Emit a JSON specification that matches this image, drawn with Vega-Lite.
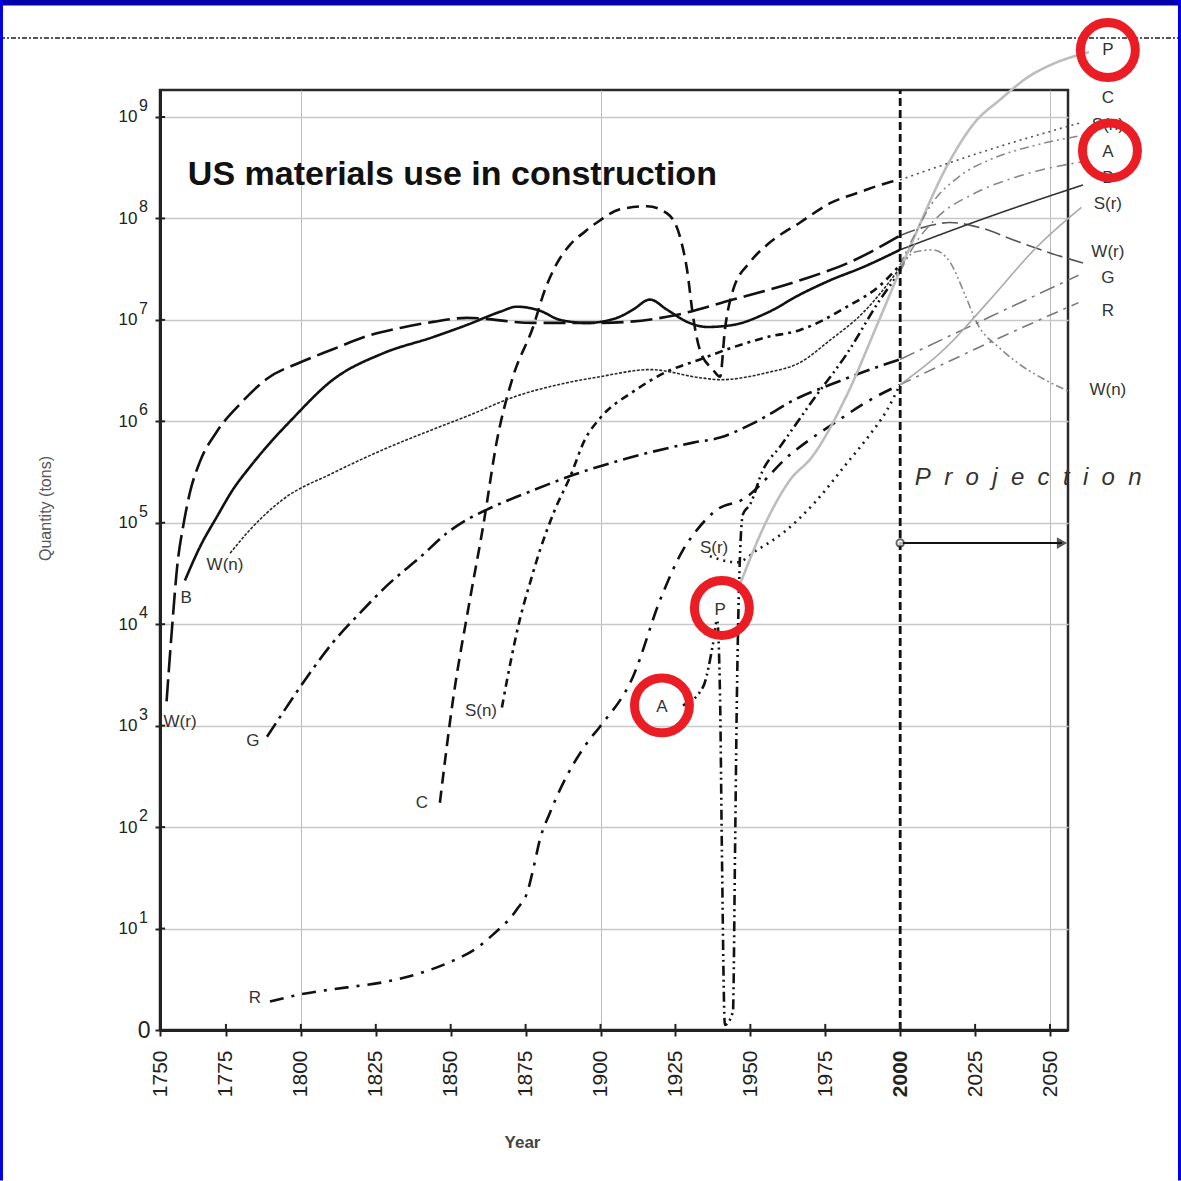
{
"$schema": "https://vega.github.io/schema/vega-lite/v6.json",
"width": 908, "height": 940,
"autosize": {"type": "none"},
"padding": {"left": 160, "top": 90, "right": 113, "bottom": 151},
"background": "white",
"config": {"view": {"stroke": "#2a2a2a", "strokeWidth": 2.5}, "font": "Liberation Sans"},
"datasets": {
"lines": [
{"k":"W(r)","year":1755.2,"L":3.24},{"k":"W(r)","year":1756.9,"L":3.92},{"k":"W(r)","year":1759.0,"L":4.64},{"k":"W(r)","year":1760.7,"L":4.96},{"k":"W(r)","year":1763.0,"L":5.3},{"k":"W(r)","year":1766.3,"L":5.6},{"k":"W(r)","year":1772.0,"L":5.9},{"k":"W(r)","year":1779.7,"L":6.17},{"k":"W(r)","year":1788.7,"L":6.42},{"k":"W(r)","year":1799.7,"L":6.58},{"k":"W(r)","year":1810.7,"L":6.71},{"k":"W(r)","year":1822.1,"L":6.84},{"k":"W(r)","year":1833.1,"L":6.92},{"k":"W(r)","year":1844.1,"L":6.98},{"k":"W(r)","year":1855.4,"L":7.02},{"k":"W(r)","year":1877.5,"L":6.97},{"k":"W(r)","year":1899.8,"L":6.97},{"k":"W(r)","year":1922.2,"L":7.03},{"k":"W(r)","year":1944.2,"L":7.2},{"k":"W(r)","year":1966.6,"L":7.39},{"k":"W(r)","year":1983.3,"L":7.57},{"k":"W(r)","year":1999.9,"L":7.83},
{"k":"B","year":1761.3,"L":4.43},{"k":"B","year":1766.3,"L":4.76},{"k":"B","year":1772.0,"L":5.06},{"k":"B","year":1777.4,"L":5.33},{"k":"B","year":1783.0,"L":5.55},{"k":"B","year":1790.7,"L":5.82},{"k":"B","year":1796.4,"L":6.0},{"k":"B","year":1810.7,"L":6.41},{"k":"B","year":1827.4,"L":6.67},{"k":"B","year":1844.1,"L":6.83},{"k":"B","year":1855.4,"L":6.95},{"k":"B","year":1866.5,"L":7.08},{"k":"B","year":1872.1,"L":7.13},{"k":"B","year":1879.8,"L":7.09},{"k":"B","year":1886.5,"L":7.0},{"k":"B","year":1895.5,"L":6.97},{"k":"B","year":1905.5,"L":7.02},{"k":"B","year":1910.8,"L":7.1},{"k":"B","year":1916.5,"L":7.2},{"k":"B","year":1922.2,"L":7.1},{"k":"B","year":1928.9,"L":6.98},{"k":"B","year":1935.6,"L":6.93},{"k":"B","year":1944.2,"L":6.95},{"k":"B","year":1955.6,"L":7.07},{"k":"B","year":1966.6,"L":7.25},{"k":"B","year":1976.6,"L":7.39},{"k":"B","year":1987.6,"L":7.52},{"k":"B","year":1999.9,"L":7.69},
{"k":"W(n)","year":1776.4,"L":4.7},{"k":"W(n)","year":1783.0,"L":4.93},{"k":"W(n)","year":1794.0,"L":5.23},{"k":"W(n)","year":1810.7,"L":5.49},{"k":"W(n)","year":1827.4,"L":5.72},{"k":"W(n)","year":1844.1,"L":5.92},{"k":"W(n)","year":1855.4,"L":6.05},{"k":"W(n)","year":1872.1,"L":6.25},{"k":"W(n)","year":1888.8,"L":6.38},{"k":"W(n)","year":1899.8,"L":6.44},{"k":"W(n)","year":1916.5,"L":6.51},{"k":"W(n)","year":1933.2,"L":6.43},{"k":"W(n)","year":1939.9,"L":6.41},{"k":"W(n)","year":1955.6,"L":6.48},{"k":"W(n)","year":1966.6,"L":6.58},{"k":"W(n)","year":1976.6,"L":6.8},{"k":"W(n)","year":1987.6,"L":7.07},{"k":"W(n)","year":1999.9,"L":7.51},
{"k":"G","year":1788.7,"L":2.89},{"k":"G","year":1795.4,"L":3.19},{"k":"G","year":1802.1,"L":3.48},{"k":"G","year":1810.7,"L":3.82},{"k":"G","year":1819.7,"L":4.11},{"k":"G","year":1829.8,"L":4.41},{"k":"G","year":1839.8,"L":4.66},{"k":"G","year":1848.8,"L":4.9},{"k":"G","year":1855.4,"L":5.03},{"k":"G","year":1862.1,"L":5.13},{"k":"G","year":1877.5,"L":5.32},{"k":"G","year":1890.8,"L":5.47},{"k":"G","year":1910.8,"L":5.65},{"k":"G","year":1930.9,"L":5.79},{"k":"G","year":1939.9,"L":5.84},{"k":"G","year":1950.9,"L":5.98},{"k":"G","year":1966.6,"L":6.24},{"k":"G","year":1976.6,"L":6.36},{"k":"G","year":1989.9,"L":6.51},{"k":"G","year":1999.9,"L":6.61},
{"k":"R","year":1789.7,"L":0.28},{"k":"R","year":1799.7,"L":0.35},{"k":"R","year":1815.4,"L":0.42},{"k":"R","year":1827.4,"L":0.47},{"k":"R","year":1840.8,"L":0.57},{"k":"R","year":1849.8,"L":0.67},{"k":"R","year":1858.8,"L":0.81},{"k":"R","year":1864.1,"L":0.94},{"k":"R","year":1872.1,"L":1.19},{"k":"R","year":1875.8,"L":1.38},{"k":"R","year":1877.5,"L":1.58},{"k":"R","year":1879.8,"L":1.88},{"k":"R","year":1883.1,"L":2.14},{"k":"R","year":1886.5,"L":2.37},{"k":"R","year":1895.5,"L":2.83},{"k":"R","year":1899.8,"L":2.99},{"k":"R","year":1910.8,"L":3.48},{"k":"R","year":1919.9,"L":4.24},{"k":"R","year":1927.5,"L":4.73},{"k":"R","year":1932.2,"L":4.93},{"k":"R","year":1938.9,"L":5.13},{"k":"R","year":1947.5,"L":5.23},{"k":"R","year":1963.2,"L":5.67},{"k":"R","year":1979.9,"L":6.02},{"k":"R","year":1989.9,"L":6.21},{"k":"R","year":1999.9,"L":6.36},
{"k":"C","year":1846.4,"L":2.24},{"k":"C","year":1850.8,"L":3.26},{"k":"C","year":1856.4,"L":4.24},{"k":"C","year":1860.8,"L":4.96},{"k":"C","year":1865.5,"L":5.82},{"k":"C","year":1870.8,"L":6.44},{"k":"C","year":1877.5,"L":6.93},{"k":"C","year":1881.5,"L":7.3},{"k":"C","year":1885.5,"L":7.56},{"k":"C","year":1889.8,"L":7.74},{"k":"C","year":1894.8,"L":7.87},{"k":"C","year":1899.8,"L":7.98},{"k":"C","year":1906.5,"L":8.09},{"k":"C","year":1915.5,"L":8.12},{"k":"C","year":1922.2,"L":8.05},{"k":"C","year":1926.5,"L":7.82},{"k":"C","year":1928.9,"L":7.49},{"k":"C","year":1930.9,"L":7.03},{"k":"C","year":1933.2,"L":6.7},{"k":"C","year":1937.5,"L":6.51},{"k":"C","year":1939.9,"L":6.44},{"k":"C","year":1941.5,"L":6.9},{"k":"C","year":1944.2,"L":7.29},{"k":"C","year":1949.9,"L":7.57},{"k":"C","year":1955.6,"L":7.74},{"k":"C","year":1966.6,"L":7.96},{"k":"C","year":1976.6,"L":8.15},{"k":"C","year":1986.6,"L":8.26},{"k":"C","year":1995.6,"L":8.35},{"k":"C","year":1999.9,"L":8.38},
{"k":"S(n)","year":1867.1,"L":3.18},{"k":"S(n)","year":1869.8,"L":3.6},{"k":"S(n)","year":1873.1,"L":4.05},{"k":"S(n)","year":1876.5,"L":4.41},{"k":"S(n)","year":1879.8,"L":4.73},{"k":"S(n)","year":1884.8,"L":5.13},{"k":"S(n)","year":1889.8,"L":5.45},{"k":"S(n)","year":1894.8,"L":5.82},{"k":"S(n)","year":1899.8,"L":6.03},{"k":"S(n)","year":1910.8,"L":6.29},{"k":"S(n)","year":1922.2,"L":6.49},{"k":"S(n)","year":1933.2,"L":6.61},{"k":"S(n)","year":1944.2,"L":6.73},{"k":"S(n)","year":1955.6,"L":6.83},{"k":"S(n)","year":1966.6,"L":6.9},{"k":"S(n)","year":1982.3,"L":7.13},{"k":"S(n)","year":1993.3,"L":7.34},{"k":"S(n)","year":1999.9,"L":7.54},
{"k":"A","year":1927.5,"L":3.2},{"k":"A","year":1934.2,"L":3.38},{"k":"A","year":1937.5,"L":3.8},{"k":"A","year":1938.9,"L":4.04},{"k":"A","year":1939.9,"L":3.26},{"k":"A","year":1940.5,"L":1.78},{"k":"A","year":1941.5,"L":0.05},{"k":"A","year":1944.2,"L":0.18},{"k":"A","year":1944.9,"L":1.78},{"k":"A","year":1945.5,"L":3.26},{"k":"A","year":1946.5,"L":4.64},{"k":"A","year":1947.5,"L":5.08},{"k":"A","year":1949.9,"L":5.18},{"k":"A","year":1954.2,"L":5.52},{"k":"A","year":1959.9,"L":5.75},{"k":"A","year":1970.9,"L":6.21},{"k":"A","year":1982.3,"L":6.67},{"k":"A","year":1993.3,"L":7.2},{"k":"A","year":1999.9,"L":7.47},
{"k":"S(r)","year":1936.5,"L":4.67},{"k":"S(r)","year":1945.5,"L":4.61},{"k":"S(r)","year":1952.2,"L":4.73},{"k":"S(r)","year":1960.9,"L":4.9},{"k":"S(r)","year":1970.9,"L":5.18},{"k":"S(r)","year":1982.3,"L":5.59},{"k":"S(r)","year":1989.9,"L":5.87},{"k":"S(r)","year":1995.6,"L":6.11},{"k":"S(r)","year":1999.9,"L":6.36},
{"k":"P","year":1946.5,"L":4.39},{"k":"P","year":1955.6,"L":5.03},{"k":"P","year":1963.2,"L":5.42},{"k":"P","year":1970.6,"L":5.65},{"k":"P","year":1981.9,"L":6.24},{"k":"P","year":1993.0,"L":7.0},{"k":"P","year":2003.3,"L":7.72},{"k":"P","year":2016.6,"L":8.57},{"k":"P","year":2025.0,"L":8.95},{"k":"P","year":2033.3,"L":9.17},{"k":"P","year":2043.0,"L":9.4},{"k":"P","year":2050.0,"L":9.51},{"k":"P","year":2063.0,"L":9.64},
{"k":"W(r) proj","year":1999.9,"L":7.83},{"k":"W(r) proj","year":2010,"L":7.93},{"k":"W(r) proj","year":2016.6,"L":7.96},{"k":"W(r) proj","year":2026.6,"L":7.91},{"k":"W(r) proj","year":2037.6,"L":7.79},{"k":"W(r) proj","year":2050,"L":7.66},{"k":"W(r) proj","year":2061,"L":7.56},
{"k":"B proj","year":1999.9,"L":7.69},{"k":"B proj","year":2030,"L":8.02},{"k":"B proj","year":2061,"L":8.33},
{"k":"W(n) proj","year":1999.9,"L":7.51},{"k":"W(n) proj","year":2005,"L":7.67},{"k":"W(n) proj","year":2011,"L":7.69},{"k":"W(n) proj","year":2016.6,"L":7.57},{"k":"W(n) proj","year":2021.6,"L":7.25},{"k":"W(n) proj","year":2025.6,"L":6.97},{"k":"W(n) proj","year":2033.3,"L":6.72},{"k":"W(n) proj","year":2039,"L":6.58},{"k":"W(n) proj","year":2048.3,"L":6.41},{"k":"W(n) proj","year":2056.7,"L":6.29},
{"k":"G proj","year":1999.9,"L":6.61},{"k":"G proj","year":2030,"L":7.03},{"k":"G proj","year":2059.5,"L":7.44},
{"k":"R proj","year":1999.9,"L":6.36},{"k":"R proj","year":2030,"L":6.78},{"k":"R proj","year":2059.5,"L":7.17},
{"k":"C proj","year":1999.9,"L":8.38},{"k":"C proj","year":2030,"L":8.68},{"k":"C proj","year":2061,"L":8.95},
{"k":"S(n) proj","year":1999.9,"L":7.54},{"k":"S(n) proj","year":2005,"L":7.85},{"k":"S(n) proj","year":2010,"L":8.12},{"k":"S(n) proj","year":2020,"L":8.42},{"k":"S(n) proj","year":2030,"L":8.58},{"k":"S(n) proj","year":2045,"L":8.72},{"k":"S(n) proj","year":2061,"L":8.82},
{"k":"A proj","year":1999.9,"L":7.47},{"k":"A proj","year":2005,"L":7.75},{"k":"A proj","year":2012,"L":8.0},{"k":"A proj","year":2025,"L":8.25},{"k":"A proj","year":2040,"L":8.42},{"k":"A proj","year":2061,"L":8.56},
{"k":"S(r) proj","year":1999.9,"L":6.36},{"k":"S(r) proj","year":2015,"L":6.72},{"k":"S(r) proj","year":2030,"L":7.2},{"k":"S(r) proj","year":2045,"L":7.7},{"k":"S(r) proj","year":2060.5,"L":8.11}
],
"labs": [
{"t":"W(r)","year":1759.7,"L":3.04,"g":"in"},{"t":"B","year":1761.7,"L":4.26,"g":"in"},{"t":"W(n)","year":1774.7,"L":4.58,"g":"in"},{"t":"G","year":1784.0,"L":2.85,"g":"in"},{"t":"R","year":1784.7,"L":0.32,"g":"in"},{"t":"C","year":1840.4,"L":2.24,"g":"in"},{"t":"S(n)","year":1860.1,"L":3.14,"g":"in"},{"t":"A","year":1920.5,"L":3.18,"g":"in"},{"t":"P","year":1939.9,"L":4.14,"g":"in"},{"t":"S(r)","year":1937.9,"L":4.75,"g":"in"},
{"t":"P","year":2069.3,"L":9.66,"g":"right"},{"t":"C","year":2069.3,"L":9.19,"g":"right"},{"t":"S(n)","year":2069.3,"L":8.92,"g":"right"},{"t":"A","year":2069.3,"L":8.65,"g":"right"},{"t":"B","year":2069.3,"L":8.4,"g":"right"},{"t":"S(r)","year":2069.3,"L":8.14,"g":"right"},{"t":"W(r)","year":2069.3,"L":7.67,"g":"right"},{"t":"G","year":2069.3,"L":7.41,"g":"right"},{"t":"R","year":2069.3,"L":7.09,"g":"right"},{"t":"W(n)","year":2069.3,"L":6.31,"g":"right"},
{"t":"US materials use in construction","year":1762.3,"L":8.43,"g":"title"},
{"t":"P\u00a0 r\u00a0 o\u00a0 j\u00a0 e\u00a0 c\u00a0 t\u00a0 i\u00a0 o\u00a0 n","year":2004.9,"L":5.44,"g":"proj"}
],
"circles": [{"year":2069.3,"L":9.66},{"year":2070.0,"L":8.67},{"year":1940.5,"L":4.16},{"year":1920.5,"L":3.2}],
"exps": [{"L":1,"e":"1"},{"L":2,"e":"2"},{"L":3,"e":"3"},{"L":4,"e":"4"},{"L":5,"e":"5"},{"L":6,"e":"6"},{"L":7,"e":"7"},{"L":8,"e":"8"},{"L":9,"e":"9"}],
"xt": [{"year":1775},{"year":1800},{"year":1825},{"year":1850},{"year":1875},{"year":1900},{"year":1925},{"year":1950},{"year":1975},{"year":2000},{"year":2025},{"year":2050}]
},
"layer": [
{
"data": {"name": "lines"},
"transform": [{"filter": {"field": "k", "oneOf": ["W(r)","B","G","R","C","S(n)","A","S(r)","P"]}}],
"mark": {"type": "line", "interpolate": "monotone", "clip": false, "strokeWidth": 2.6, "strokeJoin": "round"},
"encoding": {
"x": {"field": "year", "type": "quantitative", "scale": {"domain": [1753, 2056], "nice": false, "zero": false},
 "axis": {"title": "Year", "values": [1753,1775,1800,1825,1850,1875,1900,1925,1950,1975,2000,2025,2050], "format": "d",
  "labelExpr": "datum.value == 1753 ? '1750' : datum.label", "labelAngle": 270, "labelAlign": "right", "labelBaseline": "middle",
  "labelFontSize": 21, "labelColor": "#222", "labelPadding": 14, "labelFlush": false, "labelOverlap": false,
  "labelFontWeight": {"condition": {"test": "datum.value == 2000", "value": "bold"}, "value": "normal"},
  "tickSize": 6, "tickWidth": 2, "tickColor": "#222", "domainColor": "#222", "domainWidth": 3,
  "grid": true, "gridColor": "#bbbbbb", "gridWidth": 1,
  "gridOpacity": {"condition": {"test": "datum.value == 1800 || datum.value == 1900 || datum.value == 2050", "value": 1}, "value": 0},
  "titleFontSize": 17, "titleFontWeight": "bold", "titleColor": "#444", "titleX": 362, "titleY": 112, "titleBaseline": "middle", "titleAlign": "center"}},
"y": {"field": "L", "type": "quantitative", "scale": {"domain": [0, 9.266], "nice": false, "zero": false},
 "axis": {"title": "Quantity (tons)", "values": [0,1,2,3,4,5,6,7,8,9],
  "labelExpr": "datum.value == 0 ? '0' : '10'", "labelColor": "#222", "labelBaseline": "middle",
  "labelFontSize": {"condition": {"test": "datum.value == 0", "value": 23}, "value": 17},
  "labelPadding": {"condition": {"test": "datum.value == 0", "value": 5}, "value": 18},
  "tickSize": 5, "tickWidth": 2, "tickColor": "#222", "domainColor": "#222", "domainWidth": 3,
  "grid": true, "gridColor": "#c8c8c8", "gridWidth": 1.5,
  "gridOpacity": {"condition": {"test": "datum.value == 0", "value": 0}, "value": 1},
  "titleFontSize": 16, "titleFontWeight": "normal", "titleColor": "#555", "titleAngle": 270, "titleX": -115, "titleY": 418, "titleAlign": "center", "titleBaseline": "middle"}},
"detail": {"field": "k"},
"color": {"field": "k", "type": "nominal", "legend": null, "scale": {"domain": ["W(r)","B","G","R","C","S(n)","A","S(r)","P","W(n)","W(r) proj","B proj","W(n) proj","G proj","R proj","C proj","S(n) proj","A proj","S(r) proj"], "range": ["#111","#111","#111","#111","#111","#111","#111","#1a1a1a","#bdbdbd","#2a2a2a","#555","#333","#8a8a8a","#777","#7a7a7a","#555","#888","#888","#aaaaaa"]}},
"strokeDash": {"field": "k", "type": "nominal", "legend": null, "scale": {"domain": ["W(r)","B","G","R","C","S(n)","A","S(r)","P","W(n)","W(r) proj","B proj","W(n) proj","G proj","R proj","C proj","S(n) proj","A proj","S(r) proj"], "range": [[22,7],[1,0],[16,6,3,6],[14,8,3,8],[12,7],[8,5,3,5],[10,4,2,4,2,4],[2,5],[1,0],[3,1.5],[16,6],[1,0],[8,3,2,3,2,3],[16,6,3,6],[12,6,3,6],[2,4],[9,4,2,4,2,4],[10,5,2,5],[1,0]]}}
}
},
{
"data": {"name": "lines"},
"transform": [{"filter": {"field": "k", "oneOf": ["W(n)","W(r) proj","B proj","W(n) proj","G proj","R proj","C proj","S(n) proj","A proj","S(r) proj"]}}],
"mark": {"type": "line", "interpolate": "monotone", "clip": false, "strokeWidth": 1.6, "strokeJoin": "round"},
"encoding": {
"x": {"field": "year", "type": "quantitative"},
"y": {"field": "L", "type": "quantitative"},
"detail": {"field": "k"},
"color": {"field": "k", "type": "nominal", "legend": null},
"strokeDash": {"field": "k", "type": "nominal", "legend": null}
}
},
{
"data": {"values": [{}]},
"mark": {"type": "rule", "color": "#111", "strokeWidth": 2.8, "strokeDash": [8,4]},
"encoding": {"x": {"datum": 2000, "type": "quantitative"}, "y": {"datum": 0, "type": "quantitative"}, "y2": {"datum": 9.266}}
},
{
"data": {"name": "exps"},
"mark": {"type": "rule", "color": "#222", "strokeWidth": 2},
"encoding": {"x": {"datum": 1753, "type": "quantitative"}, "x2": {"datum": 1754.7}, "y": {"field": "L", "type": "quantitative"}}
},
{
"data": {"name": "xt"},
"mark": {"type": "rule", "color": "#222", "strokeWidth": 2},
"encoding": {"x": {"field": "year", "type": "quantitative"}, "y": {"datum": 0, "type": "quantitative"}, "y2": {"datum": 0.06}}
},
{
"data": {"name": "exps"},
"mark": {"type": "text", "align": "left", "baseline": "middle", "dx": -21, "dy": -11, "fontSize": 16, "color": "#222", "clip": false},
"encoding": {"x": {"datum": 1753, "type": "quantitative"}, "y": {"field": "L", "type": "quantitative"}, "text": {"field": "e"}}
},
{
"data": {"name": "labs"},
"transform": [{"filter": "datum.g == 'in' || datum.g == 'right'"}],
"mark": {"type": "text", "align": "center", "baseline": "middle", "fontSize": 17, "color": "#333", "clip": false},
"encoding": {"x": {"field": "year", "type": "quantitative"}, "y": {"field": "L", "type": "quantitative"}, "text": {"field": "t"}}
},
{
"data": {"name": "labs"},
"transform": [{"filter": "datum.g == 'title'"}],
"mark": {"type": "text", "align": "left", "baseline": "middle", "fontSize": 34, "fontWeight": "bold", "color": "#111"},
"encoding": {"x": {"field": "year", "type": "quantitative"}, "y": {"field": "L", "type": "quantitative"}, "text": {"field": "t"}}
},
{
"data": {"name": "labs"},
"transform": [{"filter": "datum.g == 'proj'"}],
"mark": {"type": "text", "align": "left", "baseline": "middle", "fontSize": 24, "fontStyle": "italic", "color": "#333", "clip": false},
"encoding": {"x": {"field": "year", "type": "quantitative"}, "y": {"field": "L", "type": "quantitative"}, "text": {"field": "t"}}
},
{
"data": {"values": [{}]},
"mark": {"type": "rule", "color": "#111", "strokeWidth": 2},
"encoding": {"x": {"datum": 2000, "type": "quantitative"}, "x2": {"datum": 2054}, "y": {"datum": 4.8, "type": "quantitative"}}
},
{
"data": {"values": [{}]},
"mark": {"type": "point", "shape": "triangle-right", "filled": true, "color": "#111", "size": 140, "clip": false},
"encoding": {"x": {"datum": 2054, "type": "quantitative"}, "y": {"datum": 4.8, "type": "quantitative"}}
},
{
"data": {"values": [{}]},
"mark": {"type": "point", "shape": "circle", "filled": false, "fill": "white", "stroke": "#222", "strokeWidth": 2, "size": 55},
"encoding": {"x": {"datum": 2000, "type": "quantitative"}, "y": {"datum": 4.8, "type": "quantitative"}}
},
{
"data": {"values": [{}]},
"mark": {"type": "rule", "color": "#555", "strokeWidth": 2, "strokeDash": [5,2,2,2], "clip": false},
"encoding": {"x": {"datum": 1699.6, "type": "quantitative"}, "x2": {"datum": 2093.7}, "y": {"datum": 9.778, "type": "quantitative"}}
},
{
"data": {"name": "circles"},
"mark": {"type": "point", "shape": "circle", "filled": false, "stroke": "#ea1c24", "strokeWidth": 9, "size": 3020, "opacity": 1, "clip": false},
"encoding": {"x": {"field": "year", "type": "quantitative"}, "y": {"field": "L", "type": "quantitative"}}
},
{
"data": {"values": [{}]},
"mark": {"type": "rect", "color": "#0000aa", "clip": false},
"encoding": {"x": {"datum": 1699.6, "type": "quantitative"}, "x2": {"datum": 2093.7}, "y": {"datum": 10.152, "type": "quantitative"}, "y2": {"datum": 10.1}}
},
{
"data": {"values": [{}]},
"mark": {"type": "rect", "color": "#0000e6", "clip": false},
"encoding": {"x": {"datum": 1699.6, "type": "quantitative"}, "x2": {"datum": 1700.6}, "y": {"datum": 10.152, "type": "quantitative"}, "y2": {"datum": -1.483}}
},
{
"data": {"values": [{}]},
"mark": {"type": "rect", "color": "#0000e6", "clip": false},
"encoding": {"x": {"datum": 2092.7, "type": "quantitative"}, "x2": {"datum": 2093.7}, "y": {"datum": 10.152, "type": "quantitative"}, "y2": {"datum": -1.483}}
}
]
}
